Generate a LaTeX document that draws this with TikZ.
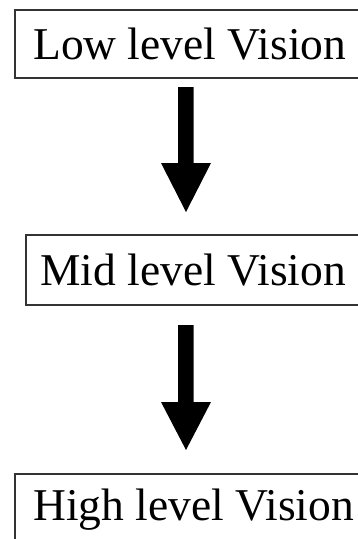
\documentclass[tikz,border=0pt]{standalone}
\usepackage{fontspec}
\setmainfont{Liberation Serif}
\begin{document}
\begin{tikzpicture}[x=1pt,y=-1pt,
  levelbox/.style={draw=black!80, line width=1.7pt, rectangle, inner sep=0pt, anchor=north west},
  leveltext/.style={anchor=base west, inner sep=0pt, font=\fontsize{45.5}{50}\selectfont},
  bigarrow/.style={fill=black, draw=none}]
\useasboundingbox (0,0) rectangle (358,539);
\clip (0,0) rectangle (358,539);
\fill[white] (0,0) rectangle (358,539);

% boxes (they run past the right edge)
\node[levelbox, minimum width=360pt, minimum height=68pt] (low) at (14,9) {};
\node[levelbox, minimum width=350pt, minimum height=70pt] (mid) at (25,234) {};
\node[levelbox, minimum width=360pt, minimum height=90pt] (high) at (14,473) {};

% labels
\node[leveltext] (lowt) at (33,59) {Low level Vision};
\node[leveltext] (midt) at (40,285) {Mid level Vision};
\node[leveltext] (hight) at (33,520) {High level Vision};

% block arrows between the levels
\coordinate (a1) at (186,87);
\coordinate (a2) at (186,325);
\fill[bigarrow] (a1) ++(-8,0) -- ++(15.5,0) -- ++(0,76) -- ++(17.5,0)
  -- ++(-25,49) -- ++(-25,-49) -- ++(17,0) -- cycle;
\fill[bigarrow] (a2) ++(-8,0) -- ++(15.5,0) -- ++(0,77) -- ++(17.5,0)
  -- ++(-25,48) -- ++(-25,-48) -- ++(17,0) -- cycle;
\end{tikzpicture}
\end{document}
